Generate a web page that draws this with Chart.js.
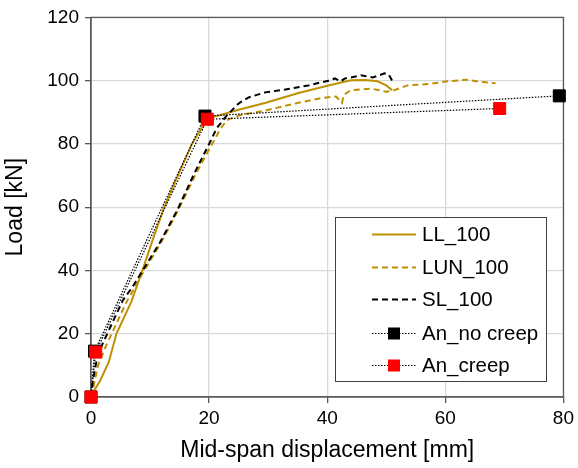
<!DOCTYPE html>
<html>
<head>
<meta charset="utf-8">
<script src="https://cdn.jsdelivr.net/npm/chart.js@4.4.1/dist/chart.umd.min.js"></script>
<style>
  html, body { margin: 0; padding: 0; background: #fff; }
  #wrap { width: 578px; height: 468px; position: relative; }
</style>
</head>
<body>
<div id="wrap"><canvas id="c"></canvas></div>
<script>
// x = mid-span displacement [mm], y = load [kN]
const LL_X = [0, 0.5, 1.5, 3, 4.3, 6.8, 8.7, 10.5, 12.4, 14.7, 17.1, 19.5, 20.5, 25, 29.6, 35, 40.2, 44, 46.5, 48.5, 50, 51];
const LL_Y = [0, 2, 5, 11, 20, 30, 40, 50, 60, 70, 80, 87.5, 88.4, 90.8, 93, 96, 98.5, 100.1, 100.2, 99.8, 98.5, 97];

const LUN_X = [0, 0.5, 1.2, 2.5, 4, 6, 8.7, 12.1, 15, 17.8, 20.5, 22, 23, 25, 29.6, 34.6, 39, 41.5, 42.5, 42.8, 44, 47.4, 50, 51.4, 53.6, 57.5, 60.3, 63.7, 66, 68.5];
const LUN_Y = [0, 4, 10, 16, 22, 30, 39, 49.6, 60, 70.7, 80, 85, 87.5, 89, 90.6, 92.8, 94.5, 95, 93, 95.5, 97, 97.5, 96.5, 97, 98.5, 99, 99.8, 100.3, 99.6, 99.2];

const SL_X = [0, 0.3, 1, 2, 3.5, 5.4, 7, 11.6, 14.6, 17.5, 20, 21.3, 23, 25, 26.7, 29.5, 32.9, 36.8, 40.2, 41.3, 42.3, 43, 44, 45.7, 47.7, 49.7, 50.4, 51];
const SL_Y = [0, 5, 12, 17, 23, 30.6, 34.7, 48.6, 59, 70.7, 80, 85, 89, 92.8, 94.7, 96.3, 97.2, 98.5, 100, 100.7, 99.8, 100.7, 101, 101.7, 101, 102.3, 102, 100];

const NOCREEP_X = [0, 0.6, 19.3, 79.3];
const NOCREEP_Y = [0, 14.5, 88.8, 95.2];

const CREEP_X = [0, 0.8, 19.7, 69.2];
const CREEP_Y = [0, 14.2, 87.8, 91.2];

const X_TICKS = [0, 20, 40, 60, 80];
const Y_TICKS = [0, 20, 40, 60, 80, 100, 120];

const GOLD = '#BF9000';
const FONT = "'Liberation Sans', Arial, sans-serif";

const pts = (xs, ys) => xs.map((x, i) => ({ x, y: ys[i] }));

function lineSet(label, xs, ys, color, dash, order) {
  return {
    label,
    data: pts(xs, ys),
    showLine: true,
    borderColor: color,
    backgroundColor: color,
    borderWidth: 2,
    borderDash: dash,
    pointRadius: 0,
    tension: 0,
    order,
  };
}

function markerSet(label, xs, ys, color, order) {
  return {
    label,
    data: pts(xs, ys),
    showLine: true,
    clip: false,
    borderColor: '#000',
    borderWidth: 1.2,
    borderDash: [1.5, 1.5],
    pointStyle: 'rect',
    pointRadius: 8.5,
    pointBackgroundColor: color,
    pointBorderColor: color,
    pointBorderWidth: 1,
    tension: 0,
    order,
  };
}

const frameLegendPlugin = {
  id: 'frameLegend',
  beforeDatasetsDraw(chart) {
    const ctx = chart.ctx;
    const a = chart.chartArea;
    ctx.save();
    ctx.strokeStyle = '#595959';
    ctx.lineWidth = 1.3;
    ctx.strokeRect(a.left, a.top, a.right - a.left, a.bottom - a.top);
    ctx.restore();
  },
  afterDraw(chart) {
    const ctx = chart.ctx;
    ctx.save();
    // legend box
    const bx = 335.5, by = 217.5, bw = 211, bh = 164;
    ctx.fillStyle = '#fff';
    ctx.fillRect(bx, by, bw, bh);
    ctx.strokeStyle = '#404040';
    ctx.lineWidth = 1;
    ctx.setLineDash([]);
    ctx.strokeRect(bx, by, bw, bh);

    const rows = [234, 267, 299, 333, 365];
    ctx.font = `20.5px ${FONT}`;
    ctx.textBaseline = 'middle';
    chart.data.datasets.forEach((ds, i) => {
      const y = rows[i] + 0.5;
      ctx.save();
      ctx.strokeStyle = ds.borderColor;
      ctx.lineWidth = ds.borderWidth;
      ctx.setLineDash(ds.borderDash || []);
      ctx.beginPath();
      ctx.moveTo(372, y);
      ctx.lineTo(416, y);
      ctx.stroke();
      if (ds.pointStyle === 'rect') {
        ctx.setLineDash([]);
        ctx.fillStyle = ds.pointBackgroundColor;
        ctx.fillRect(388, y - 6, 12, 12);
      }
      ctx.restore();
      ctx.fillStyle = '#000';
      ctx.fillText(ds.label, 422, y + 1);
    });
    ctx.restore();
  },
};

new Chart(document.getElementById('c'), {
  type: 'scatter',
  data: {
    datasets: [
      lineSet('LL_100', LL_X, LL_Y, GOLD, [], 4),
      lineSet('LUN_100', LUN_X, LUN_Y, GOLD, [6, 4], 3),
      lineSet('SL_100', SL_X, SL_Y, '#000', [6, 4], 2),
      markerSet('An_no creep', NOCREEP_X, NOCREEP_Y, '#000', 1),
      markerSet('An_creep', CREEP_X, CREEP_Y, '#FF0000', 0),
    ],
  },
  options: {
    responsive: true,
    maintainAspectRatio: false,
    animation: false,
    layout: { padding: { top: 17, right: 11, left: 0, bottom: 0 } },
    plugins: { legend: { display: false }, tooltip: { enabled: false } },
    scales: {
      x: {
        type: 'linear',
        min: 0,
        max: 80,
        afterBuildTicks: (s) => { s.ticks = X_TICKS.map((v) => ({ value: v })); },
        afterFit: (s) => { s.height = 71; },
        ticks: { color: '#000', font: { family: FONT, size: 19 }, padding: 4 },
        grid: { color: '#d9d9d9', tickColor: '#595959', tickLength: 6, lineWidth: 1.3 },
        border: { color: '#595959', width: 1.3 },
        title: { display: true, text: 'Mid-span displacement [mm]', color: '#000', font: { family: FONT, size: 23 }, padding: { top: 2 } },
      },
      y: {
        type: 'linear',
        min: 0,
        max: 120,
        afterBuildTicks: (s) => { s.ticks = Y_TICKS.map((v) => ({ value: v })); },
        afterFit: (s) => { s.width = 91; },
        ticks: { color: '#000', font: { family: FONT, size: 19 }, padding: 6 },
        grid: { color: '#d9d9d9', tickColor: '#595959', tickLength: 6, lineWidth: 1.3 },
        border: { color: '#595959', width: 1.3 },
        title: { display: true, text: 'Load [kN]', color: '#000', font: { family: FONT, size: 23 }, padding: { top: 2, bottom: 4 } },
      },
    },
  },
  plugins: [frameLegendPlugin],
});
</script>
</body>
</html>
